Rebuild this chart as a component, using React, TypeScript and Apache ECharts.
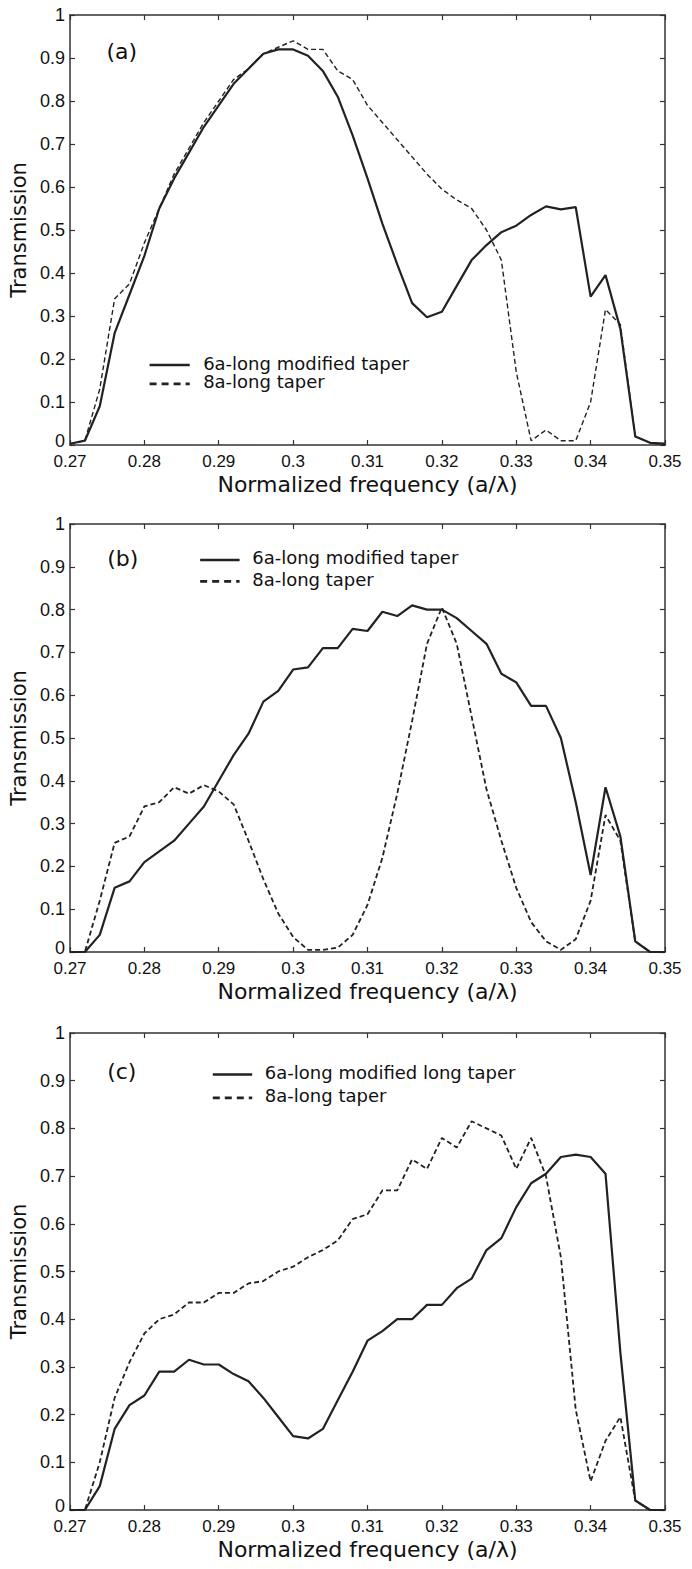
import React, { useEffect, useRef } from "react";
import * as echarts from "echarts";

// Normalized frequency samples (a/lambda)
const freq = [
  0.270, 0.272, 0.274, 0.276, 0.278, 0.280, 0.282, 0.284, 0.286, 0.288,
  0.290, 0.292, 0.294, 0.296, 0.298, 0.300, 0.302, 0.304, 0.306, 0.308,
  0.310, 0.312, 0.314, 0.316, 0.318, 0.320, 0.322, 0.324, 0.326, 0.328,
  0.330, 0.332, 0.334, 0.336, 0.338, 0.340, 0.342, 0.344, 0.346, 0.348, 0.350,
];

// Panel (a)
const aSolid = [
  0.003, 0.01, 0.09, 0.26, 0.35, 0.44, 0.55, 0.62, 0.68, 0.74,
  0.79, 0.84, 0.875, 0.91, 0.92, 0.92, 0.905, 0.87, 0.81, 0.72,
  0.62, 0.515, 0.42, 0.33, 0.297, 0.31, 0.37, 0.43, 0.465, 0.495,
  0.51, 0.535, 0.555, 0.548, 0.553, 0.345, 0.395, 0.27, 0.02, 0.005, 0.003,
];
const aDashed = [
  0.003, 0.01, 0.13, 0.34, 0.375, 0.47, 0.55, 0.63, 0.69, 0.75,
  0.8, 0.85, 0.875, 0.91, 0.925, 0.94, 0.92, 0.92, 0.87, 0.85,
  0.79, 0.75, 0.71, 0.67, 0.63, 0.595, 0.57, 0.55, 0.5, 0.43,
  0.17, 0.01, 0.035, 0.01, 0.01, 0.1, 0.315, 0.28, 0.02, 0.005, 0.0,
];

// Panel (b)
const bSolid = [
  0, 0, 0.04, 0.15, 0.165, 0.21, 0.235, 0.26, 0.3, 0.34,
  0.4, 0.46, 0.51, 0.585, 0.61, 0.66, 0.665, 0.71, 0.71, 0.755,
  0.75, 0.795, 0.785, 0.81, 0.8, 0.8, 0.78, 0.75, 0.72, 0.65,
  0.63, 0.575, 0.575, 0.5, 0.35, 0.18, 0.385, 0.27, 0.025, 0, 0,
];
const bDashed = [
  0, 0, 0.12, 0.255, 0.27, 0.34, 0.35, 0.385, 0.37, 0.39,
  0.375, 0.345, 0.26, 0.17, 0.09, 0.035, 0.005, 0.005, 0.01, 0.04,
  0.11, 0.22, 0.37, 0.54, 0.72, 0.805, 0.72, 0.55, 0.38, 0.26,
  0.15, 0.07, 0.025, 0.005, 0.03, 0.12, 0.32, 0.26, 0.025, 0, 0,
];

// Panel (c)
const cSolid = [
  0, 0, 0.05, 0.17, 0.22, 0.24, 0.29, 0.29, 0.315, 0.305,
  0.305, 0.285, 0.27, 0.235, 0.195, 0.155, 0.15, 0.17, 0.23, 0.29,
  0.355, 0.375, 0.4, 0.4, 0.43, 0.43, 0.465, 0.485, 0.545, 0.57,
  0.635, 0.685, 0.705, 0.74, 0.745, 0.74, 0.705, 0.33, 0.02, 0, 0,
];
const cDashed = [
  0, 0, 0.1, 0.235, 0.31, 0.37, 0.4, 0.41, 0.435, 0.435,
  0.455, 0.455, 0.475, 0.48, 0.5, 0.51, 0.53, 0.545, 0.565, 0.61,
  0.62, 0.67, 0.67, 0.735, 0.715, 0.78, 0.76, 0.815, 0.8, 0.785,
  0.715, 0.78, 0.7, 0.53, 0.21, 0.06, 0.145, 0.195, 0.02, 0, 0,
];

const panelTags = ["(a)", "(b)", "(c)"];
const solidNames = [
  "6a-long modified taper",
  "6a-long modified taper",
  "6a-long modified long taper",
];
const dashedName = "8a-long taper";
const xTitle = "Normalized frequency (a/\u03bb)";
const yTitle = "Transmission";

const W = 692;
const H = 1569;
const X_MIN = 0.27;
const X_MAX = 0.35;
const GRID_LEFT = 70;
const GRID_W = 595;
// legend / tag anchors are given in axis units (x in a/lambda, y in transmission)
const panels = [
  { top: 15, height: 430, tagX: 0.2749, tagY: 0.907, legX: 0.2807, legX2: 0.2861, textX: 0.2879, legY1: 0.186, legY2: 0.142 },
  { top: 524, height: 428, tagX: 0.275, tagY: 0.912, legX: 0.2875, legX2: 0.2928, textX: 0.2945, legY1: 0.916, legY2: 0.866 },
  { top: 1033, height: 477, tagX: 0.275, tagY: 0.913, legX: 0.2892, legX2: 0.2945, textX: 0.2962, legY1: 0.913, legY2: 0.864 },
];

const pair = (ys: number[]) => freq.map((f, i) => [f, ys[i]]);

export default function App() {
  const ref = useRef<HTMLDivElement>(null);
  useEffect(() => {
    if (!ref.current) return;
    const chart = echarts.init(ref.current, undefined, { renderer: "svg" });
    const solids = [aSolid, bSolid, cSolid];
    const dashes = [aDashed, bDashed, cDashed];
    const tickFont = "Liberation Sans, Arial, sans-serif";
    const titleFont = "DejaVu Sans, Verdana, sans-serif";
    const px = (v: number) => GRID_LEFT + ((v - X_MIN) / (X_MAX - X_MIN)) * GRID_W;
    const py = (p: any, v: number) => p.top + (1 - v) * p.height;

    const grid: any[] = [];
    const xAxis: any[] = [];
    const yAxis: any[] = [];
    const series: any[] = [];
    const graphic: any[] = [];

    panels.forEach((p, i) => {
      grid.push({
        left: GRID_LEFT, top: p.top, width: GRID_W, height: p.height,
        containLabel: false, outerBoundsMode: "none",
      });
      const axLine = { show: true, onZero: false, lineStyle: { color: "#333", width: 1.5 } };
      const tick = { show: true, inside: true, length: 5, lineStyle: { color: "#333", width: 1.2 } };
      xAxis.push({
        type: "value", gridIndex: i, min: X_MIN, max: X_MAX, interval: 0.01,
        axisLine: axLine, axisTick: tick, splitLine: { show: false },
        axisLabel: {
          color: "#111", fontSize: 17, fontFamily: tickFont, margin: 8,
          formatter: (v: number) => String(Math.round(v * 100) / 100),
        },
        name: xTitle, nameLocation: "middle", nameGap: 28,
        nameTextStyle: { color: "#111", fontSize: 22, fontFamily: titleFont, verticalAlign: "top" },
      });
      xAxis.push({
        type: "value", gridIndex: i, position: "top", min: X_MIN, max: X_MAX, interval: 0.01,
        axisLine: axLine, axisTick: tick, splitLine: { show: false }, axisLabel: { show: false },
      });
      yAxis.push({
        type: "value", gridIndex: i, min: 0, max: 1, interval: 0.1,
        axisLine: axLine, axisTick: tick, splitLine: { show: false },
        axisLabel: {
          color: "#111", fontSize: 18, fontFamily: tickFont, margin: 5,
          formatter: (v: number) => (v === 0 ? "{z|0}" : String(Math.round(v * 10) / 10)),
          rich: { z: { fontSize: 18, fontFamily: tickFont, color: "#111", padding: [0, 0, 9, 0] } },
        },
        name: yTitle, nameLocation: "middle", nameGap: 34, nameRotate: 90,
        nameTextStyle: { color: "#111", fontSize: 21, fontFamily: titleFont },
      });
      yAxis.push({
        type: "value", gridIndex: i, position: "right", min: 0, max: 1, interval: 0.1,
        axisLine: axLine, axisTick: tick, splitLine: { show: false }, axisLabel: { show: false },
      });
      series.push({
        type: "line", name: solidNames[i], xAxisIndex: 2 * i, yAxisIndex: 2 * i,
        data: pair(solids[i]), showSymbol: false, symbol: "none",
        lineStyle: { color: "#222", width: 2.2, type: "solid" },
      });
      series.push({
        type: "line", name: dashedName, xAxisIndex: 2 * i, yAxisIndex: 2 * i,
        data: pair(dashes[i]), showSymbol: false, symbol: "none",
        lineStyle: { color: "#222", width: i === 0 ? 1.4 : 1.8, type: [5, 3] },
      });

      const tagTop = py(p, p.tagY) - 14;
      graphic.push({
        type: "text", x: px(p.tagX), y: tagTop,
        style: { text: panelTags[i], fill: "#111", font: `22px ${titleFont}` },
      });
      const y1 = py(p, p.legY1);
      const y2 = py(p, p.legY2);
      graphic.push({
        type: "line", shape: { x1: px(p.legX), y1, x2: px(p.legX2), y2: y1 },
        style: { stroke: "#222", lineWidth: 2.4 },
      });
      graphic.push({
        type: "line", shape: { x1: px(p.legX), y1: y2, x2: px(p.legX2), y2 },
        style: { stroke: "#222", lineWidth: 2.8, lineDash: [7, 5] },
      });
      graphic.push({
        type: "text", x: px(p.textX), y: y1 - 11,
        style: { text: solidNames[i], fill: "#111", font: `18px ${titleFont}` },
      });
      graphic.push({
        type: "text", x: px(p.textX), y: y2 - 11,
        style: { text: dashedName, fill: "#111", font: `18px ${titleFont}` },
      });
    });

    chart.setOption({
      animation: false,
      backgroundColor: "#fff",
      grid, xAxis, yAxis, series, graphic,
    });
    return () => chart.dispose();
  }, []);
  return (
    <div
      ref={ref}
      style={{ position: "fixed", left: 0, top: 0, width: W, height: H, background: "#fff" }}
    />
  );
}
